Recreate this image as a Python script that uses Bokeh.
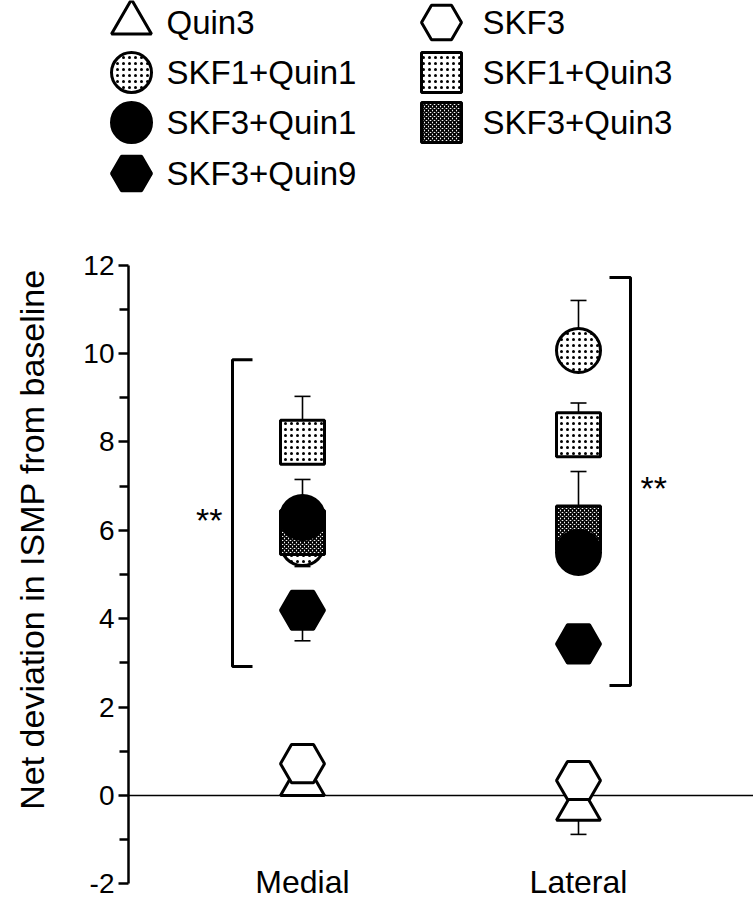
from bokeh.plotting import figure
from bokeh.models import (Range1d, FixedTicker, Whisker, TeeHead,
                          ColumnDataSource, LinearAxis)
from bokeh.embed import file_html
from bokeh.resources import INLINE
from bokeh.core.properties import value

# ---------------- data ----------------
groups = ["Medial", "Lateral"]
series = ["Quin3", "SKF3", "SKF1+Quin1", "SKF1+Quin3",
          "SKF3+Quin1", "SKF3+Quin3", "SKF3+Quin9"]

# mean net deviation, [Medial, Lateral]
quin3 = [0.29, -0.27]
skf3 = [0.72, 0.34]
skf1_quin1 = [5.70, 10.07]
skf1_quin3 = [7.99, 8.16]
skf3_quin1 = [6.29, 5.50]
skf3_quin3 = [5.95, 6.05]
skf3_quin9 = [4.19, 3.43]

# SEM drawn one-sided: + upward, - downward, 0 = hidden under the symbol
quin3_err = [0.0, -0.61]
skf3_err = [0.0, 0.0]
skf1_quin1_err = [-0.52, 1.13]
skf1_quin3_err = [1.04, 0.72]
skf3_quin1_err = [0.86, 0.0]
skf3_quin3_err = [0.0, 1.28]
skf3_quin9_err = [-0.69, 0.0]

# significance brackets
bracket_low = [2.92, 2.49]
bracket_high = [9.86, 11.72]
bracket_text = ["**", "**"]

y_ticks = [-2, 0, 2, 4, 6, 8, 10, 12]
y_minor = [-1, 1, 3, 5, 7, 9, 11]
baseline_value = 0

means = [quin3, skf3, skf1_quin1, skf1_quin3, skf3_quin1, skf3_quin3, skf3_quin9]
errs = [quin3_err, skf3_err, skf1_quin1_err, skf1_quin3_err,
        skf3_quin1_err, skf3_quin3_err, skf3_quin9_err]

# ---------------- styles / layout ----------------
markers = ["triangle", "hex", "circle", "square", "circle", "square", "hex"]
fills = ["white", "white", "white", "white", "black", "white", "black"]
hatches = [None, None, "dot", "dot", None, "diagonal_cross", None]
hatch_scales = [None, None, 6, 6, None, 4, None]
hatch_weights = [None, None, 1.3, 1.3, None, 1.7, None]
draw_order = [0, 1, 2, 3, 5, 4, 6]

FONT = "Liberation Sans"
W, H = 753, 899
PX_X = 276.0            # px per category step
FIRST_PX = 302.0        # px of first category
PX_Y = 44.2             # px per y unit
ZERO_PX = 795.0         # px of y = 0
AXIS_PX = 128.0         # px of the y axis line

x0 = 1 - FIRST_PX / PX_X
y_top = ZERO_PX / PX_Y
def dx(px):
    return x0 + px / PX_X
def dy(py):
    return y_top - py / PX_Y

gx = [i + 1 for i in range(len(groups))]

p = figure(width=W, height=H,
           x_range=Range1d(x0, dx(W)), y_range=Range1d(dy(H), y_top),
           x_axis_location=None, y_axis_location=None,
           toolbar_location=None, output_backend="svg",
           min_border=0, outline_line_color=None)
p.grid.visible = False

ax = LinearAxis(fixed_location=dx(AXIS_PX), bounds=(-2, 12),
                ticker=FixedTicker(ticks=y_ticks, minor_ticks=y_minor))
ax.major_label_overrides = {t: str(t) for t in y_ticks}
ax.axis_line_width = 2.5
ax.major_tick_line_width = 2.5
ax.minor_tick_line_width = 2.5
ax.major_tick_out = 10
ax.major_tick_in = 0
ax.minor_tick_out = 9
ax.minor_tick_in = 0
ax.major_label_text_font = FONT
ax.major_label_text_font_size = "28px"
ax.major_label_text_color = "black"
ax.major_label_standoff = 4
p.add_layout(ax, "left")

tax = LinearAxis(fixed_location=dx(AXIS_PX), bounds=(-0.4, 12.0),
                 ticker=FixedTicker(ticks=[]), axis_line_color=None,
                 major_tick_out=0, minor_tick_out=0, major_tick_in=0, minor_tick_in=0)
tax.axis_label = "Net deviation in ISMP from baseline"
tax.axis_label_text_font = FONT
tax.axis_label_text_font_size = "34px"
tax.axis_label_text_font_style = "normal"
tax.axis_label_text_color = "black"
tax.axis_label_standoff = 78
p.add_layout(tax, "left")

# baseline (y = 0) from the axis to the right edge
p.segment(x0=[dx(AXIS_PX)], y0=[baseline_value], x1=[dx(W)], y1=[baseline_value],
          line_color="black", line_width=1.3, level="underlay")

# error bars (one-sided)
base, lower, upper = [], [], []
for m, e in zip(means, errs):
    for g, v, s in zip(gx, m, e):
        if s == 0:
            continue
        base.append(g)
        lower.append(v + min(s, 0))
        upper.append(v + max(s, 0))
wsrc = ColumnDataSource(dict(base=base, lower=lower, upper=upper))
p.add_layout(Whisker(source=wsrc, base="base", lower="lower", upper="upper",
                     dimension="height", line_width=1.6, level="underlay",
                     upper_head=TeeHead(size=16, line_width=1.6),
                     lower_head=TeeHead(size=16, line_width=1.6)))

def style(i, size):
    kw = dict(marker=markers[i], size=size, fill_color=fills[i],
              line_color="black", line_width=3)
    if hatches[i]:
        kw.update(hatch_pattern=hatches[i], hatch_scale=hatch_scales[i],
                  hatch_color="black", hatch_weight=hatch_weights[i])
    return kw

for i in draw_order:
    p.scatter(x=gx, y=means[i], **style(i, 44))

# significance brackets
bx = [gx[0] + (232 - FIRST_PX) / PX_X, gx[1] + (630 - FIRST_PX - PX_X) / PX_X]
arm = [20 / PX_X, -21 / PX_X]
xs = [[b + a, b, b, b + a] for b, a in zip(bx, arm)]
ys = [[lo, lo, hi, hi] for lo, hi in zip(bracket_low, bracket_high)]
p.multi_line(xs=xs, ys=ys, line_color="black", line_width=3)
mid = [(lo + hi) / 2 for lo, hi in zip(bracket_low, bracket_high)]
p.text(x=[bx[0] - 10 / PX_X], y=[mid[0]], text=[bracket_text[0]], text_align="right",
       text_baseline="middle", text_font=value(FONT), text_font_size="34px", y_offset=7)
p.text(x=[bx[1] + 10 / PX_X], y=[mid[1]], text=[bracket_text[1]], text_align="left",
       text_baseline="middle", text_font=value(FONT), text_font_size="34px", y_offset=7)

# category labels
p.text(x=gx, y=[-2] * len(gx), text=groups, text_align="center",
       text_baseline="middle", text_font=value(FONT), text_font_size="32px",
       y_offset=-2)

# ---------------- legend (2 columns) ----------------
col_px = [131, 441]
text_px = [166, 482]
row_px = [22, 72, 122, 173]
for i, name in enumerate(series):
    c, r = i % 2, i // 2
    p.scatter(x=[dx(col_px[c])], y=[dy(row_px[r])], **style(i, 40))
    p.text(x=[dx(text_px[c])], y=[dy(row_px[r])], text=[name], text_baseline="middle",
           text_font=value(FONT), text_font_size="33px")

open("out.html", "w").write(file_html(p, INLINE))
